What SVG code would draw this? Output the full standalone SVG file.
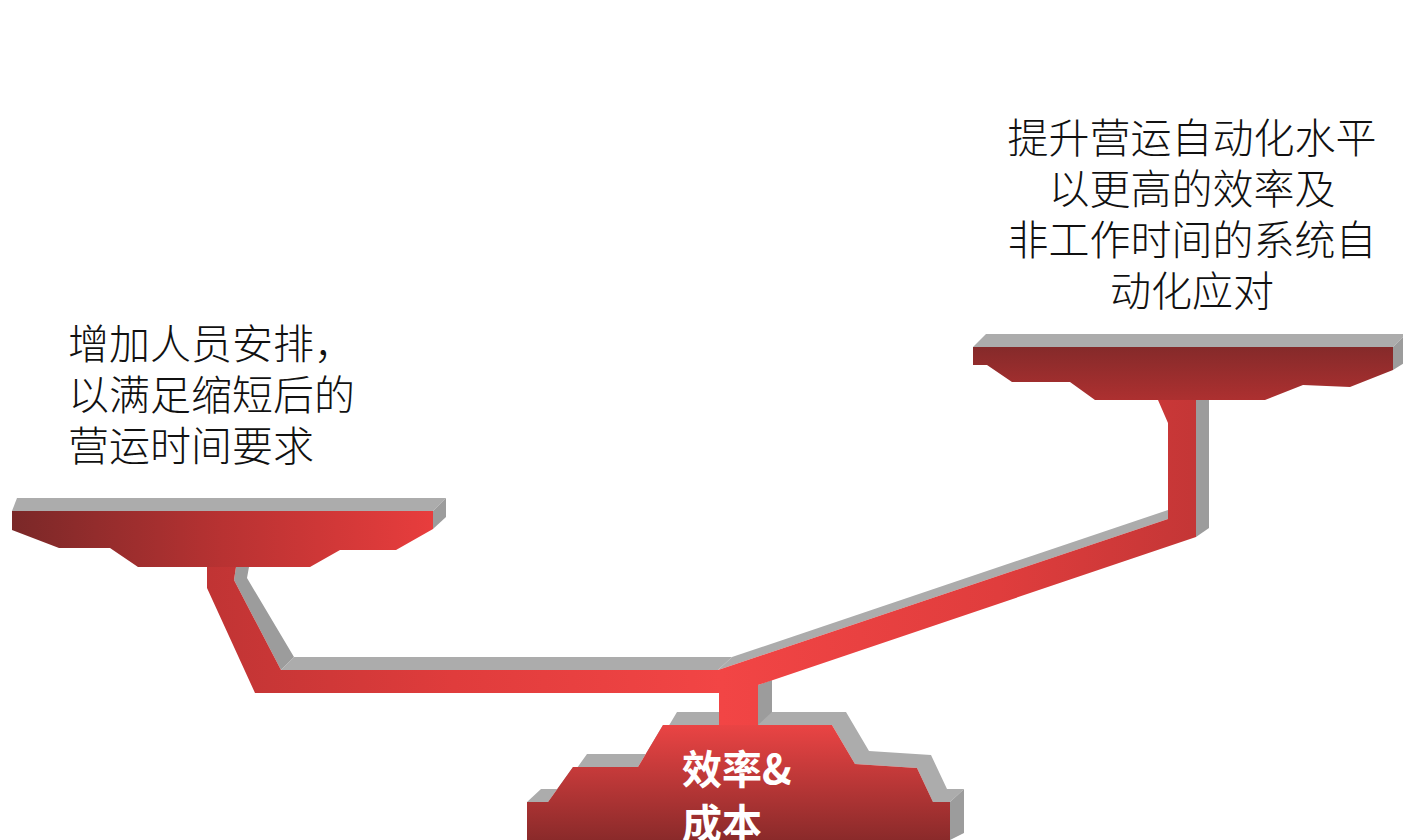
<svg xmlns="http://www.w3.org/2000/svg" width="1403" height="840" viewBox="0 0 1403 840">
  <defs>
    <linearGradient id="gLeftPlat" x1="12" y1="0" x2="433" y2="0" gradientUnits="userSpaceOnUse">
      <stop offset="0" stop-color="#7a2828"/>
      <stop offset="0.5" stop-color="#b83232"/>
      <stop offset="1" stop-color="#e83d3d"/>
    </linearGradient>
    <linearGradient id="gRightPlat" x1="0" y1="347" x2="0" y2="400" gradientUnits="userSpaceOnUse">
      <stop offset="0" stop-color="#852a2a"/>
      <stop offset="1" stop-color="#ad3030"/>
    </linearGradient>
    <linearGradient id="gLever" x1="207" y1="0" x2="1196" y2="0" gradientUnits="userSpaceOnUse">
      <stop offset="0" stop-color="#c03434"/>
      <stop offset="0.25" stop-color="#e03c3c"/>
      <stop offset="0.52" stop-color="#f24545"/>
      <stop offset="0.8" stop-color="#e03d3d"/>
      <stop offset="1" stop-color="#c43636"/>
    </linearGradient>
    <linearGradient id="gBase" x1="0" y1="725" x2="0" y2="840" gradientUnits="userSpaceOnUse">
      <stop offset="0" stop-color="#ea4444"/>
      <stop offset="1" stop-color="#8a2a2a"/>
    </linearGradient>
    <style>
      .top { fill: #acacac; }
      .side { fill: #9c9c9c; }
      .label { font-family: "Noto Sans CJK SC", "Noto Sans", sans-serif; font-size: 41px; font-weight: 300; fill: #111; }
      .core { font-family: "Noto Sans CJK SC", "Noto Sans", sans-serif; font-size: 40px; font-weight: 700; fill: #ffffff; }
    </style>
  </defs>

  <rect width="1403" height="840" fill="#ffffff"/>

  <!-- pedestal: efficiency & cost -->
  <g id="base">
    <polygon class="top" points="527,802 548,802 573,767 638,767 663,725 832,725 855,764 917,768 933,802 950,802 964,789 947,789 931,755 869,751 846,712 677,712 652,754 587,754 562,789 541,789"/>
    <polygon class="side" points="950,802 964,789 964,833 950,840"/>
    <polygon fill="url(#gBase)" points="527,840 527,802 548,802 573,767 638,767 663,725 832,725 855,764 917,768 933,802 950,802 950,840"/>
    <text class="core" x="682" y="784">效率&amp;</text>
    <text class="core" x="682" y="838">成本</text>
  </g>

  <!-- lever arms linking the pedestal to both platforms -->
  <g id="connectors">
    <polygon class="side" points="236,567 249,567 247,578 294,657 281,670 234,580"/>
    <polygon class="top" points="281,670 294,657 732,657 718,670"/>
    <polygon class="top" points="718,670 732,657 1168,510 1168,519"/>
    <polygon class="side" points="758,685 772,680 772,712 758,725"/>
    <polygon class="side" points="1196,400 1209,400 1209,528 1196,537"/>
    <polygon fill="url(#gLever)" points="207,567 236,567 234,580 281,670 718,670 1168,519 1168,423 1158,400 1196,400 1196,537 758,685 758,725 719,725 719,693 255,693 207,588"/>
  </g>

  <!-- left platform -->
  <g id="left-platform">
    <polygon class="top" points="12,511 17,498 446,498 433,511"/>
    <polygon class="side" points="433,511 446,498 446,517 433,529"/>
    <polygon fill="url(#gLeftPlat)" points="12,511 433,511 433,529 396,550 340,550 310,567 138,567 110,548 59,548 12,530"/>
    <text class="label" x="68" y="359">增加人员安排，</text>
    <text class="label" x="68" y="410">以满足缩短后的</text>
    <text class="label" x="68" y="461">营运时间要求</text>
  </g>

  <!-- right platform -->
  <g id="right-platform">
    <polygon class="top" points="973,347 986,334 1406,334 1393,347"/>
    <polygon class="side" points="1393,347 1406,334 1406,362 1393,370"/>
    <polygon fill="url(#gRightPlat)" points="973,347 1393,347 1393,370 1350,387 1303,385 1265,400 1095,400 1070,382 1012,382 987,365 973,365"/>
    <text class="label" x="1192" y="153" text-anchor="middle">提升营运自动化水平</text>
    <text class="label" x="1192" y="204" text-anchor="middle">以更高的效率及</text>
    <text class="label" x="1192" y="255" text-anchor="middle">非工作时间的系统自</text>
    <text class="label" x="1192" y="306" text-anchor="middle">动化应对</text>
  </g>
</svg>
